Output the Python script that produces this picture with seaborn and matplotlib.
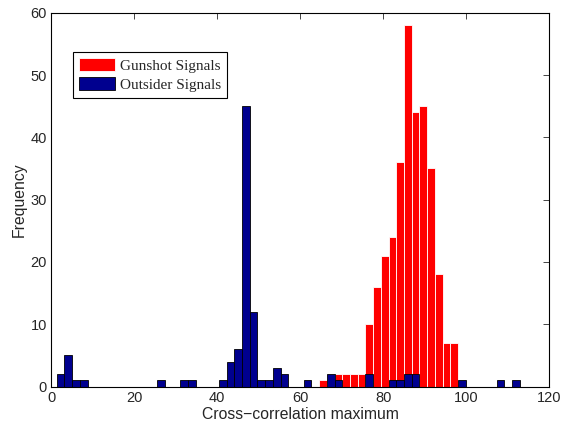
import numpy as np
import pandas as pd
import matplotlib
matplotlib.use("Agg")
import matplotlib.pyplot as plt
import seaborn as sns

# histogram bins (60 bins, like MATLAB hist)
bin_start = 1.3
bin_width = 1.86
n_bins = 60

# bin index -> count
gunshot_bins = [34, 35, 36, 37, 38, 39, 40, 41, 42, 43, 44, 45, 46, 47, 48, 49, 50, 51]
gunshot_counts = [1, 1, 2, 2, 2, 2, 10, 16, 21, 24, 36, 58, 44, 45, 35, 18, 7, 7]

outsider_bins = [0, 1, 2, 3, 13, 16, 17, 21, 22, 23, 24, 25, 26, 27, 28, 29,
                 32, 35, 36, 40, 43, 44, 45, 46, 52, 57, 59]
outsider_counts = [2, 5, 1, 1, 1, 1, 1, 1, 4, 6, 45, 12, 1, 1, 3, 2,
                   1, 2, 1, 2, 1, 1, 2, 2, 1, 1, 1]

edges = bin_start + bin_width * np.arange(n_bins + 1)
centers = edges[:-1] + bin_width / 2
brange = (edges[0], edges[-1])

# one row per observation, at its bin centre
gun = pd.DataFrame({'x': np.repeat(centers[gunshot_bins], gunshot_counts)})
out = pd.DataFrame({'x': np.repeat(centers[outsider_bins], outsider_counts)})

sns.set_style("white")
plt.rcParams['font.family'] = ['Liberation Sans', 'DejaVu Sans']

fig = plt.figure(figsize=(5.63, 4.24), dpi=100)
ax = fig.add_axes([0.0911, 0.0884, 0.8846, 0.8816])

sns.histplot(data=gun, x='x', bins=n_bins, binrange=brange,
             color='#ff0000', alpha=1, edgecolor='white', linewidth=0.6,
             label='Gunshot Signals', ax=ax)
sns.histplot(data=out, x='x', bins=n_bins, binrange=brange,
             color='#00008f', alpha=1, edgecolor='black', linewidth=0.6,
             label='Outsider Signals', ax=ax)

ax.set_xlim(0, 120)
ax.set_ylim(0, 60)
ax.set_xticks(range(0, 121, 20))
ax.set_yticks(range(0, 61, 10))
ax.tick_params(direction='in', top=True, right=True, labelsize=10.5, length=4,
               width=0.6, pad=3)
for s in ax.spines.values():
    s.set_linewidth(0.8)
    s.set_color('black')
ax.set_xlabel('Cross\u2212correlation maximum', fontsize=11.3, labelpad=1.5)
ax.set_ylabel('Frequency', fontsize=11.3, labelpad=3)

leg = ax.legend(loc='upper left', bbox_to_anchor=(0.0435, 0.895), frameon=True,
                fancybox=False, edgecolor='black', framealpha=1,
                prop={'family': 'Liberation Serif', 'size': 11},
                handlelength=2.3, handleheight=0.92, borderpad=0.42,
                labelspacing=0.28, handletextpad=0.35, borderaxespad=0)
leg.get_frame().set_linewidth(0.8)

fig.savefig('out.png', dpi=100)
